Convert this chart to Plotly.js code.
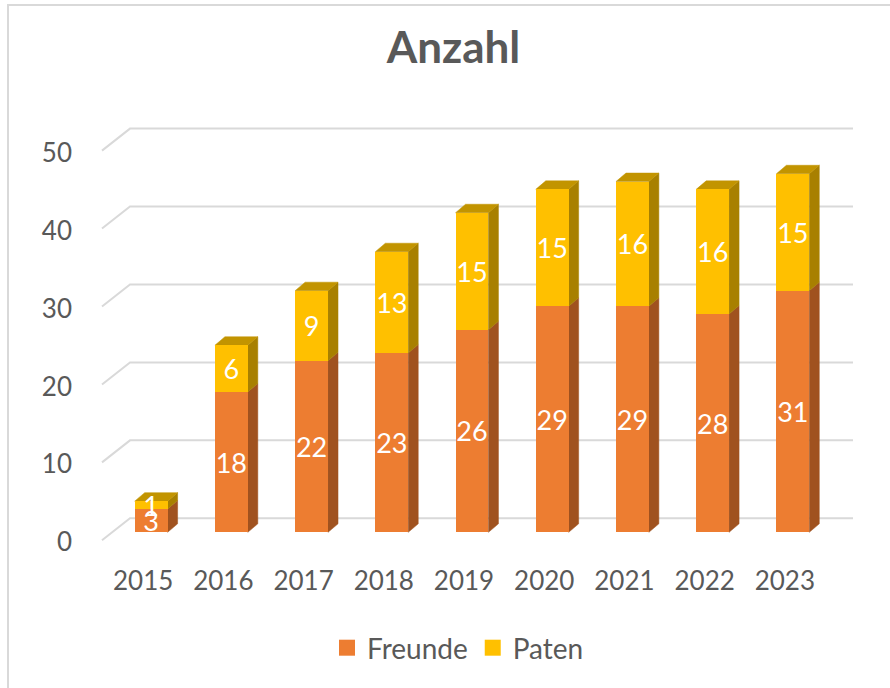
<!DOCTYPE html>
<html><head><meta charset="utf-8">
<script src="https://cdn.plot.ly/plotly-3.0.1.min.js"></script>
<style>html,body{margin:0;padding:0;background:#fff}</style>
</head><body><div id="chart" style="width:890px;height:688px"></div>
<script>
const years = ['2015','2016','2017','2018','2019','2020','2021','2022','2023'];
const freunde = [3,18,22,23,26,29,29,28,31];
const paten = [1,6,9,13,15,15,16,16,15];
const yTicks = [0,10,20,30,40,50];
const yTickText = ['0','10','20','30','40','50'];
const seriesNames = ['Freunde', 'Paten'];

const W = 890, H = 688;
const M = {l: 91, r: 37, t: 127, b: 144};
const xRange = [-0.75, 8.75], yRange = [-1.5, 52];
const plotW = W - M.l - M.r, plotH = H - M.t - M.b;
const ppx = plotW / (xRange[1] - xRange[0]);
const ppy = plotH / (yRange[1] - yRange[0]);
const barW = 0.41;
const depthX = 10 / ppx, depthY = 8.5 / ppy;
const FONT = 'Lato, "Open Sans", sans-serif';
const GREY = '#595959';

const cols = {f: '#ED7D31', fSide: '#A0521F', p: '#FFC000', pSide: '#A88000', pTop: '#C29400'};

const shapes = [];
// back-wall gridlines with perspective
yTicks.forEach(v => {
  shapes.push({type: 'path', layer: 'below', xref: 'x', yref: 'y',
    xsizemode: 'pixel', ysizemode: 'pixel', xanchor: xRange[0], yanchor: v,
    path: `M 11,-8 L 39,14 L ${plotW},14`,
    line: {color: '#D9D9D9', width: 2}});
});
function sidePath(i, b, t) {
  const xr = i + barW / 2;
  return `M ${xr},${b} L ${xr + depthX},${b + depthY} L ${xr + depthX},${t + depthY} L ${xr},${t} Z`;
}
function topPath(i, t) {
  const xl = i - barW / 2, xr = i + barW / 2;
  return `M ${xl},${t} L ${xr},${t} L ${xr + depthX},${t + depthY} L ${xl + depthX},${t + depthY} Z`;
}
years.forEach((y, i) => {
  const f = freunde[i], p = paten[i];
  shapes.push({type: 'path', layer: 'below', xref: 'x', yref: 'y', path: sidePath(i, 0, f),
    fillcolor: cols.fSide, line: {color: cols.fSide, width: 0.5}});
  shapes.push({type: 'path', layer: 'below', xref: 'x', yref: 'y', path: sidePath(i, f, f + p),
    fillcolor: cols.pSide, line: {color: cols.pSide, width: 0.5}});
  shapes.push({type: 'path', layer: 'below', xref: 'x', yref: 'y', path: topPath(i, f + p),
    fillcolor: cols.pTop, line: {color: cols.pTop, width: 0.5}});
});
// chart-area border (left and top edges visible)
const xp = px => (px - M.l) / plotW;
const yp = py => (H - M.b - py) / plotH;
shapes.push({type: 'path', layer: 'above', xref: 'paper', yref: 'paper',
  path: `M ${xp(8)},${yp(700)} L ${xp(8)},${yp(5)} L ${xp(900)},${yp(5)}`,
  line: {color: '#D9D9D9', width: 2}});

const common = {type: 'bar', x: years, width: barW, textposition: 'inside',
  insidetextanchor: 'middle', constraintext: 'none', textangle: 0, showlegend: false,
  textfont: {family: FONT, size: 27, color: '#FFFFFF'}, hoverinfo: 'skip'};
const traces = [
  Object.assign({}, common, {name: seriesNames[0], legendgroup: 'f', y: freunde, text: freunde.map(String),
    marker: {color: cols.f, line: {width: 0}}}),
  Object.assign({}, common, {name: seriesNames[1], legendgroup: 'p', y: paten, text: paten.map(String),
    marker: {color: cols.p, line: {width: 0}}}),
  // legend keys (larger square swatches)
  {type: 'scatter', mode: 'markers', x: [null], y: [null], name: seriesNames[0], legendgroup: 'f',
    marker: {symbol: 'square', size: 16, color: cols.f}, hoverinfo: 'skip'},
  {type: 'scatter', mode: 'markers', x: [null], y: [null], name: seriesNames[1], legendgroup: 'p',
    marker: {symbol: 'square', size: 16, color: cols.p}, hoverinfo: 'skip'}
];

const layout = {
  width: W, height: H, margin: M, barmode: 'stack',
  paper_bgcolor: '#FFFFFF', plot_bgcolor: 'rgba(0,0,0,0)',
  font: {family: FONT, color: GREY},
  title: {text: 'Anzahl', font: {family: FONT, size: 44, weight: 'bold', color: GREY},
    xref: 'container', yref: 'container', x: 453.5 / W, xanchor: 'center', y: 1 - 48 / H, yanchor: 'middle'},
  xaxis: {type: 'category', range: xRange, showgrid: false, zeroline: false, showline: false,
    ticks: '', tickfont: {family: FONT, size: 26, color: GREY}, ticklabelshift: -8, ticklabelstandoff: 19,
    fixedrange: true},
  yaxis: {range: yRange, tickvals: yTicks, ticktext: yTickText, showgrid: false, zeroline: false,
    showline: false, ticks: '', tickfont: {family: FONT, size: 26, color: GREY},
    ticklabelshift: 10, ticklabelstandoff: 18, fixedrange: true},
  legend: {orientation: 'h', xref: 'container', yref: 'container', x: 458 / W, xanchor: 'center',
    y: 1 - 648 / H, yanchor: 'middle', font: {family: FONT, size: 28, color: GREY}, traceorder: 'normal',
    itemwidth: 30},
  showlegend: true,
  shapes: shapes
};
Plotly.newPlot('chart', traces, layout, {displayModeBar: false, staticPlot: true});
</script></body></html>
